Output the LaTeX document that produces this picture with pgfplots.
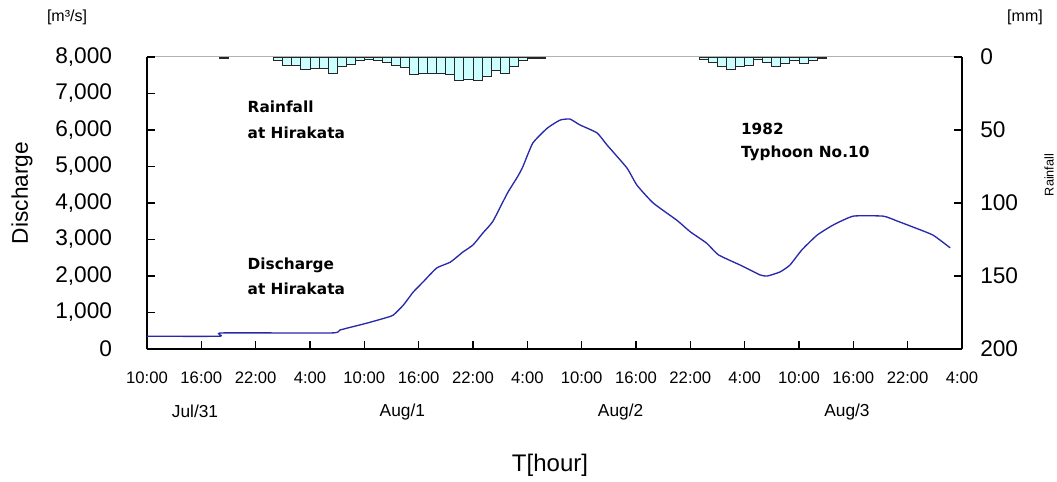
\documentclass[border=0pt]{standalone}
\usepackage{fontspec}
\setmainfont{Liberation Sans}
\newfontfamily\annot{DejaVu Sans}
\usepackage{pgfplots}
\pgfplotsset{compat=1.18}

\definecolor{flow}{RGB}{40,40,170}
\definecolor{rainfill}{RGB}{204,255,255}

% hours counted from Jul 31 10:00
\pgfplotstableread{
h    q
0    350
8.0  350
8.3  440
20.4 440
21.3 520
24.3 710
26.3 850
27.2 930
28.3 1200
29.4 1560
30.5 1840
32.0 2220
33.5 2380
34.9 2660
36.0 2850
37.1 3180
38.2 3500
39.8 4270
40.9 4710
41.5 4990
42.6 5640
44.2 6050
45.6 6270
46.7 6300
47.8 6140
49.7 5920
50.8 5590
53.0 4960
54.1 4490
55.9 4000
58.5 3530
60.0 3210
61.8 2900
63.1 2580
65.5 2300
67.7 2030
68.5 2000
69.9 2110
71.0 2300
72.3 2710
74.0 3120
75.8 3400
78.0 3640
81.3 3640
82.8 3510
84.6 3340
86.8 3120
88.7 2770
}\discharge

% hourly rainfall, bar centred at hour+0.5
\pgfplotstableread{
h    r
8.5  1
14.5 2.7
15.5 5.7
16.5 5.7
17.5 8.4
18.5 8
19.5 8
20.5 11.2
21.5 6.8
22.5 5
23.5 2.3
24.5 2
25.5 2.3
26.5 3.4
27.5 5.5
28.5 7.3
29.5 11.9
30.5 11.2
31.5 11.2
32.5 11.2
33.5 11.9
34.5 15.8
35.5 15.3
36.5 15.8
37.5 13.5
38.5 9.1
39.5 11.2
40.5 6.8
41.5 2.7
42.5 1
43.5 1
61.5 2
62.5 3.9
63.5 6.8
64.5 8.4
65.5 6.2
66.5 5.7
67.5 2
68.5 3.4
69.5 6.2
70.5 4.6
71.5 2.7
72.5 4.6
73.5 2.7
74.5 1
}\rain

\begin{document}
\begin{tikzpicture}
\path[use as bounding box] (-110.25pt,-99.75pt) rectangle (682.5pt,261.75pt);
\draw[gray!60, line width=0.75pt] (0,219pt) -- (611.25pt,219pt);

\begin{axis}[
  at={(0,0)}, anchor=south west,
  width=611.25pt, height=219pt, scale only axis,
  xmin=0, xmax=90, ymin=0, ymax=8000,
  axis x line*=bottom, axis y line*=left,
  axis line style={line width=1.2pt},
  tick align=inside, major tick length=6pt,
  tick style={black, line width=1pt},
  xtick={0,6,...,90},
  xticklabels={10:00,16:00,22:00,4:00,10:00,16:00,22:00,4:00,10:00,16:00,22:00,4:00,10:00,16:00,22:00,4:00},
  xticklabel style={font=\fontsize{12.5pt}{14pt}\selectfont, anchor=north, inner sep=0pt, yshift=-17pt},
  ytick={0,1000,...,8000},
  yticklabels={0,{1,000},{2,000},{3,000},{4,000},{5,000},{6,000},{7,000},{8,000}},
  yticklabel style={font=\fontsize{17pt}{20pt}\selectfont, anchor=east, inner sep=0pt, xshift=-26pt},
  clip=false,
]
\addplot[flow, line width=1pt, smooth, tension=0.3] table[x=h, y=q] {\discharge};
% inward tick marks
\pgfplotsinvokeforeach{6,12,18,24,30,36,42,48,54,60,66,72,78,84}{
  \draw[black, line width=1pt] (axis cs:#1,0) -- ++(0,6pt);}
\pgfplotsinvokeforeach{1000,2000,3000,4000,5000,6000,7000}{
  \draw[black, line width=1pt] (axis cs:0,#1) -- ++(6pt,0);}
\node[font=\fontsize{13pt}{15pt}\selectfont] at (axis cs:5.3,0) [yshift=-47pt] {Jul/31};
\node[font=\fontsize{13pt}{15pt}\selectfont] at (axis cs:28.2,0) [yshift=-47pt] {Aug/1};
\node[font=\fontsize{13pt}{15pt}\selectfont] at (axis cs:52.3,0) [yshift=-47pt] {Aug/2};
\node[font=\fontsize{13pt}{15pt}\selectfont] at (axis cs:77.3,0) [yshift=-47pt] {Aug/3};
\end{axis}

\begin{axis}[
  at={(0,0)}, anchor=south west,
  width=611.25pt, height=219pt, scale only axis,
  xmin=0, xmax=90, ymin=0, ymax=200, y dir=reverse,
  hide x axis, axis y line*=right,
  axis line style={line width=1.2pt},
  tick align=inside, major tick length=6pt,
  tick style={black, line width=1pt},
  ytick={0,50,...,200},
  yticklabels={0,50,100,150,200},
  yticklabel style={font=\fontsize{17pt}{20pt}\selectfont, anchor=west, inner sep=0pt, xshift=13.5pt},
  ybar, bar width=1, clip=false,
]
\addplot[fill=rainfill, draw=black!85, line width=0.7pt] table[x=h, y=r] {\rain};
\pgfplotsinvokeforeach{0,50,100,150}{
  \draw[black, line width=1pt] (axis cs:90,#1) -- ++(-6pt,0);}
\end{axis}

\begin{scope}[font=\annot\bfseries\fontsize{11.5pt}{13pt}\selectfont]
\node[anchor=west] at (72pt,181.5pt) {Rainfall};
\node[anchor=west] at (72pt,162pt) {at Hirakata};
\node[anchor=west] at (72pt,63pt) {Discharge};
\node[anchor=west] at (72pt,45pt) {at Hirakata};
\node[anchor=west] at (442pt,165pt) {1982};
\node[anchor=west] at (442pt,147pt) {Typhoon No.10};
\end{scope}

\node[font=\fontsize{12pt}{14pt}\selectfont] at (-60pt,249pt) {[m³/s]};
\node[font=\fontsize{12pt}{14pt}\selectfont] at (658.5pt,249pt) {[mm]};
\node[font=\fontsize{17pt}{20pt}\selectfont, rotate=90] at (-93.75pt,117pt) {Discharge};
\node[font=\fontsize{9.5pt}{11pt}\selectfont, rotate=90] at (676.5pt,130.5pt) {Rainfall};
\node[font=\fontsize{18pt}{21pt}\selectfont] at (302.25pt,-87pt) {T[hour]};
\end{tikzpicture}
\end{document}
